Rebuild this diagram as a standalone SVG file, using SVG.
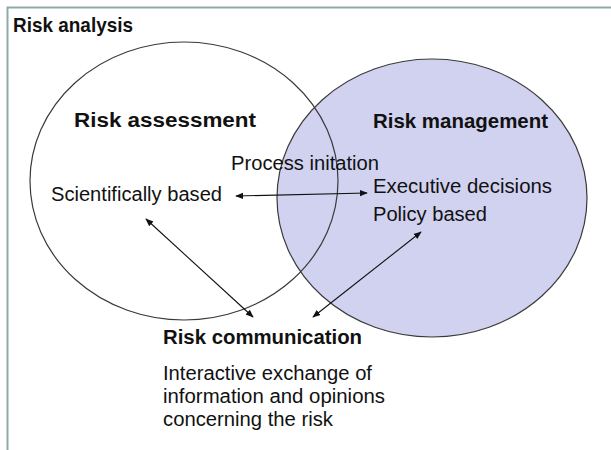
<svg xmlns="http://www.w3.org/2000/svg" width="611" height="450" viewBox="0 0 611 450">
<style>
.frame{stroke:#8fa9a9;stroke-width:2;fill:none}
.circ{stroke:#3a3a3a;stroke-width:1.2}
.t{font-family:"Liberation Sans",Arial,sans-serif;font-size:19.5px;fill:#111}
.b{font-weight:bold;font-size:20px}
.conn{stroke:#111;stroke-width:1.1;fill:none;marker-start:url(#ah);marker-end:url(#ah)}
</style>
<defs>
<marker id="ah" viewBox="0 0 10 10" refX="9" refY="5" markerWidth="8" markerHeight="8" markerUnits="userSpaceOnUse" orient="auto-start-reverse">
<path d="M0,1 L10,5 L0,9 z" fill="#111"/>
</marker>
</defs>
<rect width="611" height="450" fill="#fff"/>
<path class="frame" d="M7.5,450 V7.5 H611"/>
<text class="t b" x="13" y="32" style="font-size:21px" textLength="120" lengthAdjust="spacingAndGlyphs">Risk analysis</text>
<g id="risk-management">
<ellipse class="circ" cx="432" cy="198" rx="155" ry="139" fill="#d1d1f0"/>
<text class="t b" x="373" y="128" textLength="175" lengthAdjust="spacingAndGlyphs">Risk management</text>
<text class="t" x="373" y="193" textLength="179" lengthAdjust="spacingAndGlyphs">Executive decisions</text>
<text class="t" x="373" y="221" textLength="114" lengthAdjust="spacingAndGlyphs">Policy based</text>
</g>
<g id="risk-assessment">
<ellipse class="circ" cx="184" cy="181" rx="154" ry="139" fill="none"/>
<text class="t b" x="74" y="127" textLength="182" lengthAdjust="spacingAndGlyphs">Risk assessment</text>
<text class="t" x="51" y="201" textLength="171" lengthAdjust="spacingAndGlyphs">Scientifically based</text>
</g>
<g id="process-initiation">
<text class="t" x="231" y="170" textLength="148" lengthAdjust="spacingAndGlyphs">Process initation</text>
</g>
<g id="risk-communication">
<text class="t b" x="163" y="344" textLength="199" lengthAdjust="spacingAndGlyphs">Risk communication</text>
<text class="t" x="163" y="380" textLength="209" lengthAdjust="spacingAndGlyphs">Interactive exchange of</text>
<text class="t" x="163" y="403" textLength="222" lengthAdjust="spacingAndGlyphs">information and opinions</text>
<text class="t" x="163" y="426" textLength="170" lengthAdjust="spacingAndGlyphs">concerning the risk</text>
</g>
<g id="connectors">
<line class="conn" x1="236" y1="196" x2="367" y2="193"/>
<line class="conn" x1="146" y1="219" x2="253" y2="317"/>
<line class="conn" x1="421" y1="232" x2="313" y2="317"/>
</g>
</svg>
